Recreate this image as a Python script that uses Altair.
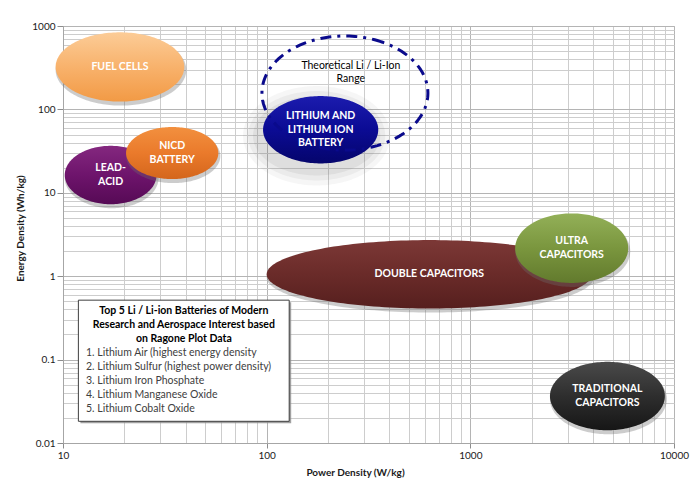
import math
import altair as alt
import pandas as pd

# ---------------- data (log-log Ragone plot) ----------------
names = ["Fuel Cells", "Lead-Acid", "NiCd Battery", "Lithium",
         "Double Capacitors", "Ultra Capacitors", "Traditional Capacitors"]
labels = ["FUEL CELLS", "LEAD-\nACID", "NICD\nBATTERY",
          "LITHIUM AND\nLITHIUM ION\nBATTERY", "DOUBLE CAPACITORS",
          "ULTRA\nCAPACITORS", "TRADITIONAL\nCAPACITORS"]
power_min = [9.2, 10.2, 20.4, 96.0, 100.0, 1660.0, 2460.0]      # W/kg
power_max = [39.4, 28.8, 57.9, 353.0, 3950.0, 5960.0, 9020.0]
energy_min = [124.0, 7.3, 14.6, 22.5, 0.41, 0.83, 0.0142]       # Wh/kg
energy_max = [840.0, 36.6, 61.5, 144.5, 2.71, 5.66, 0.094]

theory_power = [94.8, 619.0]
theory_energy = [32.5, 759.0]
theory_text = "Theoretical Li / Li-Ion\nRange"
theory_text_at = [259.0, 277.0]

box_title = "Top 5 Li / Li-ion Batteries of Modern\nResearch and Aerospace Interest based\non Ragone Plot Data"
box_items = ["1. Lithium Air (highest energy density",
             "2. Lithium Sulfur (highest power density)",
             "3. Lithium Iron Phosphate",
             "4. Lithium Manganese Oxide",
             "5. Lithium Cobalt Oxide"]
box_power = [11.9, 129.0]
box_energy = [0.0182, 0.516]
box_title_at = [39.2, 0.259]
box_items_at = [12.97, 0.0551]

x_ticks = [m * 10 ** d for d in range(1, 4) for m in range(1, 10)] + [10000]
y_ticks = [round(m * 10.0 ** d, 6) for d in range(-2, 3) for m in range(1, 10)] + [1000]

# ---------------- styling ----------------
fills = [("#FCCC97", "#F8B26C", "#F29A45"),
         ("#84287F", "#6E146C", "#560A55"),
         ("#F2903F", "#EA7A2B", "#D4661C"),
         ("#1C1CAE", "#0B0B94", "#05056C"),
         ("#7C3836", "#6A2B29", "#561F1E"),
         ("#93B058", "#7A963E", "#627A2D"),
         ("#4A4A4A", "#2E2E2E", "#161616")]

PXX = 203.7   # pixels per decade (x)
PXY = 83.35   # pixels per decade (y)
W, H = 611, 417

MAJOR = "abs(log(datum.value)/LN10 - round(log(datum.value)/LN10)) < 0.001"
FONT = "Lato"

xscale = alt.Scale(type="log", domain=[10, 10000], nice=False)
yscale = alt.Scale(type="log", domain=[0.01, 1000], nice=False)

xaxis = alt.Axis(values=x_ticks, title="Power Density (W/kg)",
                 labelExpr=f"{MAJOR} ? format(datum.value, '~g') : ''",
                 labelOverlap=False, labelFlush=False,
                 grid=True, gridColor={"condition": {"test": MAJOR, "value": "#B4B4B4"}, "value": "#CDCDCD"},
                 tickOpacity={"condition": {"test": MAJOR, "value": 1}, "value": 0},
                 tickSize=5, tickColor="#8C8C8C", domainColor="#A6A6A6",
                 labelFont=FONT, labelFontSize=10, labelColor="#1A1A1A", labelPadding=2,
                 titleFont=FONT, titleFontSize=10, titleFontWeight="bold", titleColor="#1A1A1A",
                 titleX=292, titleY=29, titleBaseline="middle", titleAlign="center")
yaxis = alt.Axis(values=y_ticks, title="Energy Density (Wh/kg)",
                 labelExpr=f"{MAJOR} ? format(datum.value, '~g') : ''",
                 labelOverlap=False, labelFlush=False,
                 grid=True, gridColor={"condition": {"test": MAJOR, "value": "#B4B4B4"}, "value": "#CDCDCD"},
                 tickOpacity={"condition": {"test": MAJOR, "value": 1}, "value": 0},
                 tickSize=6, tickColor="#8C8C8C", domainColor="#A6A6A6",
                 labelFont=FONT, labelFontSize=10, labelColor="#1A1A1A", labelPadding=2,
                 titleFont=FONT, titleFontSize=10, titleFontWeight="bold", titleColor="#1A1A1A",
                 titleX=-43, titleY=202, titleAngle=270, titleBaseline="middle", titleAlign="center")


def X(field):
    return alt.X(field, type="quantitative", scale=xscale, axis=xaxis)


def Y(field):
    return alt.Y(field, type="quantitative", scale=yscale, axis=yaxis)


def ellipse_frame(pmin, pmax, emin, emax, dx=0.0, dy=0.0, grow=0.0, n=90):
    lx0, lx1 = math.log10(pmin), math.log10(pmax)
    ly0, ly1 = math.log10(emin), math.log10(emax)
    cx = (lx0 + lx1) / 2 + dx / PXX
    cy = (ly0 + ly1) / 2 - dy / PXY
    a = (lx1 - lx0) / 2 + grow / PXX
    b = (ly1 - ly0) / 2 + grow / PXY
    rows = []
    for i in range(n + 1):
        t = math.pi * (1 - i / n)
        h = b * math.sin(t)
        rows.append({"p": 10 ** (cx + a * math.cos(t)),
                     "lo": 10 ** (cy - h), "hi": 10 ** (cy + h)})
    return pd.DataFrame(rows)


def area_layer(df, color, opacity=1.0):
    return alt.Chart(df).mark_area(color=color, opacity=opacity, clip=False).encode(
        x=X("p"), y=Y("lo"), y2=alt.Y2("hi"))


def grad(stops):
    return alt.Gradient(gradient="linear", x1=0.5, y1=0, x2=0.5, y2=1,
                        stops=[alt.GradientStop(color=stops[0], offset=0),
                               alt.GradientStop(color=stops[1], offset=0.5),
                               alt.GradientStop(color=stops[2], offset=1)])


def text_rows(items, lh):
    """items: list of (power, energy, multi-line text); one row per line, block centred on energy."""
    rows = []
    for p, e, txt in items:
        lines = txt.split("\n")
        n = len(lines)
        for j, line in enumerate(lines):
            off = (j - (n - 1) / 2) * lh / PXY
            rows.append({"p": p, "e": 10 ** (math.log10(e) - off), "t": line})
    return pd.DataFrame(rows)


def text_layer(df, **kw):
    return alt.Chart(df).mark_text(font=FONT, baseline="middle", clip=False, **kw).encode(
        x=X("p"), y=Y("e"), text="t:N")


layers = []

# grid / axes carrier
grid_df = pd.DataFrame({"p": [10, 10000], "e": [0.01, 1000]})
layers.append(alt.Chart(grid_df).mark_point(opacity=0).encode(x=X("p"), y=Y("e")))

# text box (shadow + box)
box_df = pd.DataFrame({"p0": [box_power[0]], "p1": [box_power[1]],
                       "e0": [box_energy[0]], "e1": [box_energy[1]]})
layers.append(alt.Chart(box_df).mark_rect(color="#8A8A8A", opacity=0.8, xOffset=2, yOffset=2,
                                          x2Offset=2, y2Offset=2).encode(
    x=X("p0"), x2="p1", y=Y("e0"), y2="e1"))
layers.append(alt.Chart(box_df).mark_rect(fill="white", stroke="#3F3F3F", strokeWidth=1).encode(
    x=X("p0"), x2="p1", y=Y("e0"), y2="e1"))

for i in range(len(names)):
    if names[i] == "Lithium":
        for g, op in [(16, 0.06), (11, 0.08), (6, 0.1)]:
            layers.append(area_layer(ellipse_frame(power_min[i], power_max[i], energy_min[i], energy_max[i],
                                                   dx=-4, dy=6, grow=g), "#6E6E6E", op))
    else:
        layers.append(area_layer(ellipse_frame(power_min[i], power_max[i], energy_min[i], energy_max[i],
                                               dx=1, dy=3, grow=1), "#6E6E6E", 0.35))
    layers.append(area_layer(ellipse_frame(power_min[i], power_max[i], energy_min[i], energy_max[i]),
                             grad(fills[i])))

# theoretical dashed outline
lx0, lx1 = math.log10(theory_power[0]), math.log10(theory_power[1])
ly0, ly1 = math.log10(theory_energy[0]), math.log10(theory_energy[1])
tcx, tcy, ta, tb = (lx0 + lx1) / 2, (ly0 + ly1) / 2, (lx1 - lx0) / 2, (ly1 - ly0) / 2
trows = []
for k in range(181):
    t = 2 * math.pi * k / 180 + math.pi * 0.35
    trows.append({"k": k, "p": 10 ** (tcx + ta * math.cos(t)), "e": 10 ** (tcy + tb * math.sin(t))})
theory_df = pd.DataFrame(trows)
layers.append(alt.Chart(theory_df).mark_line(color="#0A0A8C", strokeWidth=3,
                                             strokeDash=[11, 6, 3, 6], clip=False).encode(
    x=X("p"), y=Y("e"), order="k:Q"))

# ellipse labels (centred on each ellipse)
centres = [(math.sqrt(a * b), math.sqrt(c * d), t)
           for a, b, c, d, t in zip(power_min, power_max, energy_min, energy_max, labels)]
layers.append(text_layer(text_rows(centres, 13.5), color="white", fontWeight="bold",
                         fontSize=10.5, align="center"))

# theoretical label
layers.append(text_layer(text_rows([(theory_text_at[0], theory_text_at[1], theory_text)], 13.5),
                         color="black", fontSize=10.5, align="center"))

# box texts
layers.append(text_layer(text_rows([(box_title_at[0], box_title_at[1], box_title)], 13.7),
                         color="black", fontWeight="bold", fontSize=10.5, align="center"))
layers.append(text_layer(text_rows([(box_items_at[0], box_items_at[1], "\n".join(box_items))], 13.85),
                         color="#404040", fontSize=10.5, align="left"))

chart = alt.layer(*layers).properties(
    width=W, height=H,
    autosize=alt.AutoSizeParams(type="none"),
    padding={"left": 55, "top": 18, "right": 18, "bottom": 36},
    background="white",
).configure_view(stroke="#BFBFBF", strokeWidth=1)

chart.save("out.html", embed_options={"renderer": "svg", "actions": False})
